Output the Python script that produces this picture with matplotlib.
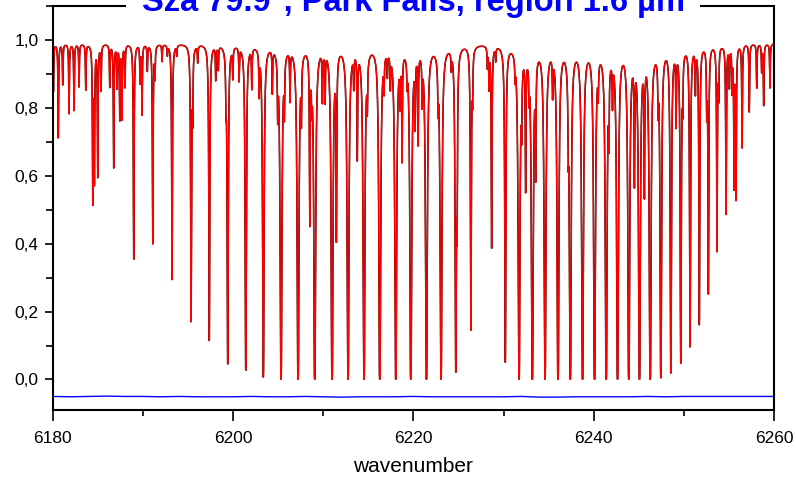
import numpy as np
import matplotlib.pyplot as plt
from matplotlib.ticker import MultipleLocator, FuncFormatter
from matplotlib.transforms import offset_copy

plt.rcParams['font.family'] = ['Liberation Sans', 'DejaVu Sans']

# absorption lines: centre wavenumber and transmission at line centre
line_pos = [6180.10, 6180.64, 6181.13, 6181.83, 6182.38, 6182.94, 6183.68,
            6184.46, 6184.64, 6185.01, 6185.38, 6186.34, 6186.78, 6187.15,
            6187.45, 6187.70, 6188.03, 6189.00, 6189.70, 6189.92, 6190.51,
            6191.11, 6191.36, 6192.14, 6192.73, 6193.25, 6193.77, 6195.36,
            6195.54, 6196.09, 6197.38, 6198.09, 6198.38, 6199.23, 6199.42,
            6199.98, 6200.68, 6201.42, 6202.09, 6202.90, 6203.37, 6204.37,
            6204.96, 6205.33, 6205.70, 6206.33, 6207.22, 6207.59, 6208.52,
            6208.74, 6209.07, 6209.92, 6210.22, 6210.99, 6211.47, 6212.76,
            6213.39, 6213.79, 6214.53, 6214.90, 6216.28, 6216.75, 6217.12,
            6217.45, 6218.05, 6218.53, 6218.75, 6219.31, 6219.72, 6220.20,
            6220.53, 6220.98, 6221.45, 6222.74, 6223.07, 6224.21, 6224.70,
            6224.85, 6226.38, 6226.57, 6228.21, 6228.39, 6228.68, 6229.13,
            6230.20, 6231.28, 6231.72, 6232.01, 6232.45, 6232.83, 6233.19,
            6233.56, 6234.60, 6235.44, 6236.04, 6237.18, 6237.40, 6238.76,
            6240.09, 6240.50, 6241.38, 6241.68, 6242.08, 6242.64, 6243.89,
            6244.51, 6245.07, 6245.62, 6246.26, 6247.14, 6247.44, 6248.55,
            6249.13, 6249.65, 6249.87, 6250.68, 6251.27, 6251.71, 6252.53,
            6252.71, 6253.67, 6253.86, 6254.67, 6255.04, 6255.34, 6255.56,
            6255.78, 6256.45, 6257.25, 6258.07, 6258.62, 6258.84, 6259.54]
line_min = [0.85, 0.713, 0.87, 0.784, 0.794, 0.864, 0.855,
            0.526, 0.59, 0.60, 0.856, 0.865, 0.626, 0.865,
            0.769, 0.772, 0.865, 0.355, 0.88, 0.784, 0.913,
            0.40, 0.90, 0.94, 0.96, 0.294, 0.96, 0.172,
            0.80, 0.94, 0.115, 0.89, 0.92, 0.86, 0.046,
            0.90, 0.89, 0.027, 0.87, 0.86, 0.007, 0.86,
            0.82, 0.0, 0.83, 0.84, 0.0, 0.81, 0.474,
            0.87, 0.0, 0.84, 0.84, 0.0, 0.428, 0.0,
            0.89, 0.667, 0.0, 0.85, 0.0, 0.89, 0.92,
            0.89, 0.0, 0.85, 0.667, 0.92, 0.0, 0.78,
            0.715, 0.85, 0.0, 0.86, 0.0, 0.94, 0.022,
            0.50, 0.147, 0.86, 0.93, 0.87, 0.39, 0.95,
            0.051, 0.93, 0.0, 0.80, 0.577, 0.89, 0.0,
            0.641, 0.0, 0.87, 0.0, 0.78, 0.0, 0.0,
            0.0, 0.89, 0.0, 0.77, 0.85, 0.0, 0.0,
            0.607, 0.0, 0.572, 0.0, 0.85, 0.005, 0.019,
            0.77, 0.048, 0.85, 0.097, 0.86, 0.162, 0.81,
            0.255, 0.38, 0.85, 0.489, 0.87, 0.86, 0.572,
            0.538, 0.685, 0.79, 0.86, 0.91, 0.81, 0.86]

# residual (measured - fit), shifted down by 0.05
resid_wn = [6180, 6182, 6184, 6186, 6188, 6190, 6192, 6194, 6196, 6198,
            6200, 6202, 6204, 6206, 6208, 6210, 6212, 6214, 6216, 6218,
            6220, 6222, 6224, 6226, 6228, 6230, 6232, 6234, 6236, 6238,
            6240, 6242, 6244, 6246, 6248, 6250, 6252, 6254, 6256, 6258,
            6260]
resid_val = [-0.050, -0.051, -0.050, -0.049, -0.050, -0.050, -0.051, -0.050,
             -0.051, -0.051, -0.051, -0.050, -0.051, -0.051, -0.050, -0.051,
             -0.052, -0.051, -0.051, -0.051, -0.050, -0.051, -0.051, -0.051,
             -0.051, -0.051, -0.050, -0.052, -0.052, -0.051, -0.051, -0.051,
             -0.051, -0.050, -0.051, -0.050, -0.050, -0.050, -0.050, -0.050,
             -0.050]

continuum = 0.99
gamma = 0.038

wn = np.arange(6180.0, 6260.0005, 0.004)
tau = np.zeros_like(wn)
for nu0, tmin in zip(line_pos, line_min):
    strength = -np.log(max(tmin, 5e-4) / continuum)
    tau += strength * gamma**2 / ((wn - nu0)**2 + gamma**2)
trans = continuum * np.exp(-tau)

fig = plt.figure(figsize=(7.96, 4.79), dpi=100)
ax = fig.add_axes([0.066, 0.144, 0.9065, 0.8435])

ax.plot(wn, trans, color='black', lw=1.1)
ax.plot(wn, trans, color='red', lw=1.0)
ax.plot(resid_wn, resid_val, color='blue', lw=1.0)

ax.set_xlim(6180, 6260)
ax.set_ylim(-0.09, 1.1)
ax.xaxis.set_major_locator(MultipleLocator(20))
ax.xaxis.set_minor_locator(MultipleLocator(10))
ax.yaxis.set_major_locator(MultipleLocator(0.2))
ax.yaxis.set_minor_locator(MultipleLocator(0.1))
ax.yaxis.set_major_formatter(FuncFormatter(lambda v, p: f'{v:.1f}'.replace('.', ',')))
ax.tick_params(which='both', direction='out', width=1.2, labelsize=12.5)
ax.tick_params(axis='x', which='major', length=8, pad=7)
ax.tick_params(axis='x', which='minor', length=4)
ax.tick_params(axis='y', which='major', length=6, pad=4)
ax.tick_params(axis='y', which='minor', length=5)
for s in ax.spines.values():
    s.set_linewidth(1.5)

ax.set_xlabel('wavenumber', fontsize=15, labelpad=8)

title_tr = offset_copy(ax.transAxes, fig=fig, y=-5, units='dots')
ax.text(0.5, 1.0, 'Sza 79.9°, Park Falls, region 1.6 µm', transform=title_tr,
        ha='center', va='baseline', fontsize=23.5, fontweight='bold',
        color='#0000ff', clip_on=False, zorder=5,
        bbox=dict(facecolor='white', edgecolor='none', pad=11))

fig.savefig('out.png', dpi=100)
